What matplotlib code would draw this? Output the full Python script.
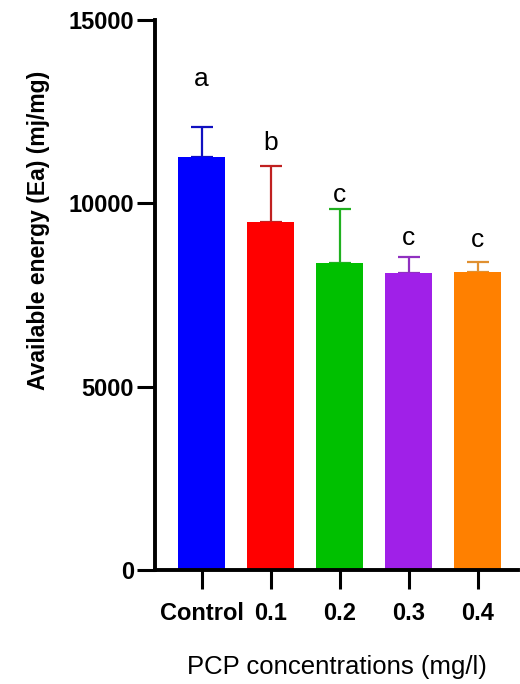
import matplotlib.pyplot as plt

# Mean available energy per PCP concentration with upper SD bars
groups = ['Control', '0.1', '0.2', '0.3', '0.4']
energy_mean = [11270, 9480, 8370, 8090, 8130]
energy_sd = [820, 1540, 1480, 440, 270]
letters = ['a', 'b', 'c', 'c', 'c']
letter_y = [13390, 11640, 10240, 9050, 9000]

bar_colors = ['#0000FF', '#FF0000', '#00C000', '#A020E8', '#FF8000']
err_colors = ['#1010C0', '#C02020', '#20B020', '#9030C0', '#E09030']

plt.rcParams['font.family'] = ['Liberation Sans', 'DejaVu Sans']

fig = plt.figure(figsize=(5.2, 6.84), dpi=100)
ax = fig.add_axes([0.298, 0.1667, 0.698, 0.804])

x = list(range(len(groups)))
ax.bar(x, energy_mean, width=0.68, color=bar_colors, zorder=2)
for xi, m, sd, c in zip(x, energy_mean, energy_sd, err_colors):
    ax.errorbar(xi, m, yerr=[[0], [sd]], fmt='none', ecolor=c,
                elinewidth=1.6, capsize=8, capthick=1.6, zorder=1)
for xi, lab, ly in zip(x, letters, letter_y):
    ax.text(xi, ly, lab, ha='center', va='center', fontsize=19)

ax.set_xlim(-0.677, 4.58)
ax.set_ylim(0, 15000)
ax.set_yticks([0, 5000, 10000, 15000])
ax.set_xticks(x)
ax.set_xticklabels(groups, fontsize=17, fontweight='bold')
ax.tick_params(axis='y', labelsize=17, width=2.2, length=13, pad=2)
for t in ax.get_yticklabels():
    t.set_fontweight('bold')
ax.tick_params(axis='x', width=2.2, length=14, pad=9)

for s in ['top', 'right']:
    ax.spines[s].set_visible(False)
for s in ['left', 'bottom']:
    ax.spines[s].set_linewidth(2.8)

ax.set_ylabel('Available energy (Ea) (mj/mg)', fontsize=16.5,
              fontweight='bold')
ax.yaxis.set_label_coords(-0.29, 0.618)
ax.set_xlabel('PCP concentrations (mg/l)', fontsize=18.5, labelpad=22)

plt.savefig('out.png', dpi=100)
plt.close()
